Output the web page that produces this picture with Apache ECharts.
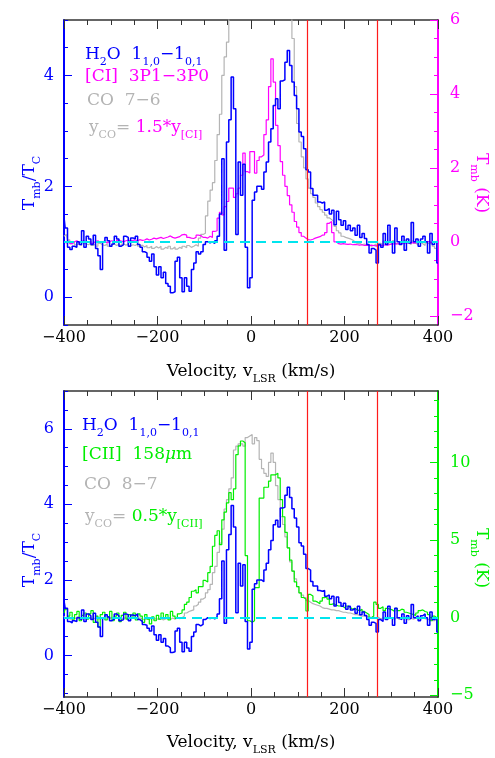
<!DOCTYPE html>
<html><head><meta charset="utf-8">
<script src="https://cdn.jsdelivr.net/npm/echarts@6/dist/echarts.min.js"></script>
<style>html,body{margin:0;padding:0;background:#fff}#c{width:495px;height:758px}</style>
</head><body><div id="c"></div>
<script>
// Velocity grid: -400 .. 400 km/s, 5 km/s channels
const h2o = [
1.45,1.25,0.90,0.86,0.92,0.90,1.00,0.95,1.20,0.90,
1.10,1.05,0.95,1.12,0.88,0.75,0.50,1.00,1.08,1.02,
0.92,0.96,1.10,1.05,0.92,0.95,1.10,1.08,0.92,1.07,
1.05,1.10,0.95,0.90,0.82,0.80,0.72,0.65,0.78,0.55,
0.40,0.55,0.35,0.45,0.25,0.20,0.08,0.10,0.65,0.72,
0.35,0.10,0.35,0.20,0.11,0.50,0.62,0.82,0.78,0.82,
0.95,1.00,0.98,1.00,0.97,1.02,1.10,1.50,2.50,0.85,
2.80,3.20,3.97,3.40,1.13,2.44,1.84,2.40,0.90,0.17,
0.35,1.75,1.90,2.00,2.00,1.95,2.26,2.44,2.80,3.04,
3.46,3.58,3.40,3.90,3.92,4.24,4.45,4.18,3.88,3.64,
3.40,2.98,2.90,2.68,2.30,2.26,1.96,1.84,1.84,1.72,
1.70,1.72,1.57,1.60,1.50,1.57,1.31,1.55,1.40,1.30,
1.38,1.22,1.30,1.20,1.25,1.12,1.30,1.08,1.15,1.06,
0.95,0.80,0.88,0.85,0.62,0.95,0.90,1.15,0.95,1.30,
1.00,0.80,1.25,1.00,0.95,1.10,0.85,1.05,0.98,1.35,
1.00,1.05,0.92,1.05,1.10,1.00,0.80,1.15,0.95,1.00,
0.62];
const ci = [
0.00,-0.03,0.02,-0.05,0.00,0.03,-0.02,0.00,0.04,-0.03,
0.00,0.02,-0.04,0.01,0.03,-0.02,0.00,0.02,-0.03,0.01,
0.03,0.00,-0.02,0.04,0.02,0.00,0.03,0.05,0.02,0.04,
0.05,0.03,0.06,0.04,0.05,0.08,0.05,0.07,0.10,0.08,
0.10,0.12,0.09,0.11,0.13,0.16,0.12,0.10,0.12,0.14,
0.19,0.20,0.18,0.12,0.10,0.09,0.12,0.18,0.17,0.12,
0.12,0.10,0.15,0.12,0.28,0.30,0.64,0.80,0.73,0.95,
1.09,1.45,1.45,1.20,1.30,1.45,1.80,2.40,1.90,1.86,
2.44,2.44,1.86,2.20,2.30,2.35,2.90,3.30,4.20,4.95,
4.32,3.15,2.60,2.17,1.80,1.50,1.25,1.00,0.80,0.55,
0.40,0.25,0.15,0.10,0.06,0.05,0.07,0.10,0.12,0.14,
0.18,0.19,0.25,0.50,0.55,0.25,0.00,-0.05,-0.06,-0.05,
-0.06,-0.07,-0.06,-0.08,-0.07,-0.08,-0.09,-0.08,-0.10,-0.09,
-0.10,-0.09,-0.10,-0.11,-0.10,-0.09,-0.10,-0.08,-0.09,-0.07,
-0.06,-0.05,-0.06,-0.04,-0.05,-0.03,-0.04,-0.02,-0.03,-0.02,
-0.03,-0.01,-0.02,0.00,-0.01,0.01,0.00,-0.02,0.00,0.01,
0.00];
const co76 = [
0.15,0.20,0.05,-0.05,0.00,-0.08,-0.05,-0.10,-0.02,-0.06,
-0.08,-0.03,-0.10,-0.05,-0.12,-0.04,-0.08,-0.10,-0.06,-0.12,
-0.08,-0.05,-0.10,-0.07,-0.12,-0.06,-0.09,-0.05,-0.11,-0.08,
-0.10,-0.06,-0.12,-0.09,-0.14,-0.10,-0.16,-0.12,-0.18,-0.13,
-0.17,-0.12,-0.20,-0.15,-0.18,-0.12,-0.19,-0.14,-0.20,-0.15,
-0.18,-0.12,-0.16,-0.10,-0.15,-0.12,-0.08,-0.12,0.10,0.20,
0.23,0.70,1.10,1.40,1.60,2.20,2.90,3.45,4.50,5.00,
5.40,6.50,7.40,8.20,8.80,9.30,9.60,9.80,10.0,10.1,
10.2,10.0,9.80,9.60,9.40,9.20,9.00,9.10,9.30,9.00,
8.80,8.50,8.20,7.90,7.60,7.30,7.00,6.30,5.50,4.20,
3.20,2.70,2.30,2.00,1.70,1.45,1.30,1.20,1.05,0.95,
0.87,0.80,0.72,0.65,0.60,0.55,0.42,0.30,0.24,0.15,
0.12,0.10,0.08,0.05,0.00,-0.05,-0.04,-0.08,-0.06,-0.10,
-0.08,-0.12,-0.10,-0.06,-0.12,-0.04,-0.08,0.02,-0.05,-0.02,
-0.06,0.03,-0.04,-0.08,0.00,-0.05,0.04,-0.03,-0.07,0.02,
-0.04,-0.08,0.00,-0.05,-0.10,-0.03,-0.06,-0.02,-0.12,-0.18,
-0.08];
const cii = [
0.30,0.55,0.10,0.35,-0.10,0.20,0.40,-0.20,0.15,0.30,
-0.10,0.25,0.45,-0.30,0.10,-0.60,0.20,0.35,-0.15,0.05,
0.40,-0.20,0.10,0.30,-0.25,0.15,0.35,-0.10,0.20,0.00,
0.30,-0.15,0.25,0.10,-0.30,0.20,-0.10,-0.40,0.05,-0.20,
0.15,-0.10,0.30,0.00,0.20,-0.15,0.40,0.10,-0.05,0.25,
0.30,0.50,0.86,1.00,1.30,1.70,1.80,1.60,2.00,2.00,
2.40,2.30,2.90,3.30,4.60,5.30,5.60,4.70,6.30,6.80,
7.40,8.05,7.60,8.30,10.50,11.06,11.38,11.27,4.00,-0.20,
-0.30,-0.20,1.93,1.93,7.70,7.70,8.40,8.40,8.80,9.20,
9.20,9.30,9.00,7.60,6.50,5.50,4.50,3.70,3.00,2.30,
2.00,1.60,1.30,1.20,0.43,1.50,1.40,1.07,1.00,0.90,
1.07,1.29,1.35,1.20,0.86,0.90,0.80,0.75,0.75,0.70,
0.60,0.75,0.65,0.55,0.60,0.50,0.45,0.55,0.40,0.30,
0.20,0.00,0.10,1.00,0.85,0.60,0.70,0.45,0.60,0.55,
0.50,0.40,0.60,0.45,0.55,0.50,0.35,0.30,0.25,0.20,
0.15,0.30,0.45,0.50,0.40,0.35,0.20,-0.20,0.10,0.00,
-0.10];
const co87 = [
0.10,-0.05,0.05,-0.10,0.00,-0.08,0.05,-0.12,-0.03,0.02,
-0.06,0.04,-0.10,-0.02,0.05,-0.08,-0.04,0.03,-0.10,-0.05,
0.02,-0.08,-0.03,0.04,-0.10,-0.05,0.00,-0.12,-0.04,0.03,
-0.06,-0.10,0.00,-0.08,-0.15,-0.05,-0.12,-0.02,-0.10,-0.06,
-0.12,-0.04,-0.15,-0.08,-0.05,-0.12,-0.02,-0.10,0.00,-0.06,
0.00,0.10,0.30,0.40,0.45,0.50,0.75,0.86,1.00,1.20,
1.30,1.60,1.80,2.15,2.90,3.30,4.20,4.80,5.70,7.00,
7.60,8.30,9.00,10.80,11.05,11.20,11.20,11.05,11.60,11.70,
11.80,11.20,11.60,11.40,10.20,9.60,9.30,9.10,10.00,10.60,
10.00,8.50,7.60,6.50,6.00,5.20,4.50,3.60,3.00,2.50,
2.00,1.60,1.45,1.30,1.10,1.00,0.90,0.85,0.80,0.75,
0.65,0.60,0.60,0.55,0.50,0.50,0.45,0.45,0.40,0.35,
0.35,0.30,0.30,0.25,0.20,0.20,0.15,0.10,0.12,0.05,
0.08,0.00,0.05,-0.05,0.02,-0.08,0.00,-0.10,-0.04,0.03,
-0.06,-0.10,0.00,-0.12,-0.05,0.02,-0.08,-0.15,-0.04,-0.10,
-0.02,-0.08,-0.12,0.00,-0.06,-0.10,-0.15,-0.05,-0.20,-0.12,
-0.08];

// reference lines
const continuumLevel = 1;
const redLines = [120, 270];

// tick labels
const xLabels = [-400, -200, 0, 200, 400];
const topLeftLabels = [0, 2, 4];
const topRightLabels = [-2, 0, 2, 4, 6];
const botLeftLabels = [0, 2, 4, 6];
const botRightLabels = [-5, 0, 5, 10];

// axis ranges
const topLeftRange = [-0.5, 5];
const topRightRange = [-2.25, 6];
const botLeftRange = [-1.1, 7];
const botRightRange = [-5.11, 14.6];

const FONT = 'DejaVu Serif';
const BLUE = '#0000ff', MAG = '#ff00ff', GRAY = '#b4b4b4', GREEN = '#00ee00',
      CYAN = '#00e5ee', RED = '#ff1a1a', AX = '#333333';

const vel = h2o.map((_, i) => -400 + 5 * i);
const pts = a => a.map((y, i) => [vel[i], y]);
function range(a, b, s) { const r = []; for (let v = a; v <= b + 1e-9; v += s) r.push(Math.round(v * 100) / 100); return r; }
const fmt = v => (v < 0 ? '\u2212' : '') + Math.abs(v);

function xAx(grid, pos, ticks, len, line, labels) {
  return {type: 'value', gridIndex: grid, position: pos, min: -400, max: 400,
    axisLine: {show: line, onZero: false, lineStyle: {color: AX, width: 1.5}},
    axisTick: {show: true, inside: true, length: len, customValues: ticks, lineStyle: {color: AX, width: 1}},
    axisLabel: labels ? {show: true, customValues: labels, margin: 5, color: '#000', fontSize: 16, fontFamily: FONT, formatter: fmt} : {show: false},
    splitLine: {show: false}, silent: true};
}
function yAx(grid, pos, rng, ticks, len, color, line, labels) {
  return {type: 'value', gridIndex: grid, position: pos, min: rng[0], max: rng[1],
    axisLine: {show: line, onZero: false, lineStyle: {color, width: 2}},
    axisTick: {show: true, inside: true, length: len, customValues: ticks, lineStyle: {color, width: 1}},
    axisLabel: labels ? {show: true, customValues: labels, margin: pos === 'left' ? 10 : 12, color, fontSize: 16, fontFamily: FONT, formatter: fmt} : {show: false},
    splitLine: {show: false}, silent: true};
}
function line(data, xi, yi, color, width, z, extra) {
  return Object.assign({type: 'line', data: pts(data), xAxisIndex: xi, yAxisIndex: yi, step: 'middle',
    symbol: 'none', showSymbol: false, lineStyle: {color, width}, itemStyle: {color}, z, silent: true, animation: false}, extra || {});
}
function marks(xi, yi) {
  return {type: 'line', data: [], xAxisIndex: xi, yAxisIndex: yi, z: 10, silent: true, animation: false,
    markLine: {silent: true, symbol: ['none', 'none'], label: {show: false}, animation: false,
      lineStyle: {color: RED, width: 1.2, type: 'solid'},
      data: redLines.map(v => ({xAxis: v, lineStyle: {color: RED, width: 1.2, type: 'solid'}}))
        .concat([{yAxis: continuumLevel, lineStyle: {color: CYAN, width: 2, type: [10, 6]}}])}};
}

const xMinor = range(-400, 400, 50), xMajor = range(-400, 400, 200);

function rt(color, size, sub) {
  return {
    m: {fontFamily: FONT, fontSize: size, fill: color, color, lineHeight: 26, verticalAlign: 'middle'},
    s: {fontFamily: FONT, fontSize: sub, fill: color, color, lineHeight: 12, verticalAlign: 'bottom'}
  };
}
function rt2(c1, c2, size, sub) {
  return {
    m: {fontFamily: FONT, fontSize: size, fill: c1, color: c1, lineHeight: 26, verticalAlign: 'middle'},
    s: {fontFamily: FONT, fontSize: sub, fill: c1, color: c1, lineHeight: 12, verticalAlign: 'bottom'},
    n: {fontFamily: FONT, fontSize: size, fill: c2, color: c2, lineHeight: 26, verticalAlign: 'middle'},
    t: {fontFamily: FONT, fontSize: sub, fill: c2, color: c2, lineHeight: 12, verticalAlign: 'bottom'}
  };
}
function txt(x, y, text, rich, rot, align) {
  return {type: 'text', x, y, rotation: rot || 0, z: 100, silent: true,
    style: {text, rich, align: align || 'left', verticalAlign: 'middle'}};
}

const chart = echarts.init(document.getElementById('c'), null, {renderer: 'canvas'});
chart.setOption({
  backgroundColor: '#fff',
  animation: false,
  grid: [
    {left: 64, top: 20, width: 374, height: 305},
    {left: 64, top: 391, width: 374, height: 306}
  ],
  xAxis: [
    xAx(0, 'bottom', xMinor, 5, true, null), xAx(0, 'bottom', xMajor, 9, false, xLabels),
    xAx(0, 'top', xMinor, 5, true, null), xAx(0, 'top', xMajor, 9, false, null),
    xAx(1, 'bottom', xMinor, 5, true, null), xAx(1, 'bottom', xMajor, 9, false, xLabels),
    xAx(1, 'top', xMinor, 5, true, null), xAx(1, 'top', xMajor, 9, false, null)
  ],
  yAxis: [
    yAx(0, 'left', topLeftRange, range(-0.5, 5, 0.5), 4, BLUE, true, null),
    yAx(0, 'left', topLeftRange, topLeftLabels, 8, BLUE, false, topLeftLabels),
    yAx(0, 'right', topRightRange, range(-2, 6, 0.5), 4, MAG, true, null),
    yAx(0, 'right', topRightRange, topRightLabels, 8, MAG, false, topRightLabels),
    yAx(1, 'left', botLeftRange, range(-1, 7, 0.5), 4, BLUE, true, null),
    yAx(1, 'left', botLeftRange, botLeftLabels, 8, BLUE, false, botLeftLabels),
    yAx(1, 'right', botRightRange, range(-5, 14, 1), 4, GREEN, true, null),
    yAx(1, 'right', botRightRange, botRightLabels, 8, GREEN, false, botRightLabels)
  ],
  series: [
    line(co76, 0, 2, GRAY, 1.2, 2),
    line(ci, 0, 2, MAG, 1.2, 3),
    line(h2o, 0, 0, BLUE, 1.5, 4),
    marks(0, 0),
    line(co87, 4, 6, GRAY, 1.2, 2),
    line(cii, 4, 6, GREEN, 1.2, 3),
    line(h2o, 4, 4, BLUE, 1.5, 4),
    marks(4, 4)
  ],
  graphic: [
    txt(85, 55, '{m|H}{s|2}{m|O  1}{s|1,0}{m|\u22121}{s|0,1}', rt(BLUE, 17, 11)),
    txt(85, 77, '{m|[CI]  3P1\u22123P0}', rt(MAG, 17, 11)),
    txt(87, 101, '{m|CO  7\u22126}', rt(GRAY, 17, 11)),
    txt(89, 128, '{m|y}{s|CO}{m|=}{n| 1.5*y}{t|[CI]}', rt2(GRAY, MAG, 17, 11)),
    txt(82, 426, '{m|H}{s|2}{m|O  1}{s|1,0}{m|\u22121}{s|0,1}', rt(BLUE, 17, 11)),
    txt(82, 455, '{m|[CII]  158}{i|\u03bc}{m|m}', Object.assign(rt(GREEN, 17, 11), {i: {fontFamily: FONT, fontStyle: 'italic', fontSize: 17, fill: GREEN, color: GREEN, lineHeight: 26, verticalAlign: 'middle'}})),
    txt(84, 485, '{m|CO  8\u22127}', rt(GRAY, 17, 11)),
    txt(85, 517, '{m|y}{s|CO}{m|=}{n| 0.5*y}{t|[CII]}', rt2(GRAY, GREEN, 17, 11)),
    txt(251, 372, '{m|Velocity, v}{s|LSR}{m| (km/s)}', rt('#000', 17, 11), 0, 'center'),
    txt(251, 743, '{m|Velocity, v}{s|LSR}{m| (km/s)}', rt('#000', 17, 11), 0, 'center'),
    txt(30, 183, '{m|T}{s|mb}{m|/T}{s|C}', rt(BLUE, 17, 11), Math.PI / 2, 'center'),
    txt(30, 560, '{m|T}{s|mb}{m|/T}{s|C}', rt(BLUE, 17, 11), Math.PI / 2, 'center'),
    txt(481, 183, '{m|T}{s|mb}{m| (K)}', rt(MAG, 17, 11), -Math.PI / 2, 'center'),
    txt(481, 558, '{m|T}{s|mb}{m| (K)}', rt(GREEN, 17, 11), -Math.PI / 2, 'center')
  ]
});
</script></body></html>
